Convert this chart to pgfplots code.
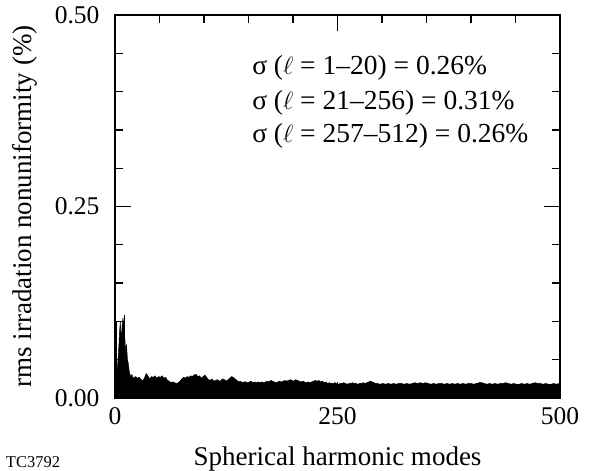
\documentclass[border=0pt]{standalone}
\usepackage{pgfplots}
\pgfplotsset{compat=1.18}
\usepackage{fontspec}
\setmainfont{Liberation Serif}
\begin{document}
\begin{tikzpicture}
\useasboundingbox (-115pt,-73pt) rectangle (480pt,398pt);
\begin{axis}[
  scale only axis, width=445pt, height=383pt,
  xmin=0, xmax=500, ymin=0, ymax=0.5,
  xtick={0,250,500}, minor xtick={50,100,150,200,300,350,400,450},
  ytick={0,0.25,0.5}, minor ytick={0.05,0.1,0.15,0.2,0.3,0.35,0.4,0.45},
  tick align=inside, major tick length=16pt, minor tick length=8pt,
  axis line style={line width=1.3pt}, every tick/.style={line width=1.3pt, black},
  /pgf/number format/assume math mode=true,
  yticklabel style={/pgf/number format/fixed, /pgf/number format/fixed zerofill, /pgf/number format/precision=2, xshift=-12pt},
  xticklabel style={yshift=-6pt},
  tick label style={font=\fontsize{25.5}{30}\selectfont},
  scaled y ticks=false,
  xlabel={Spherical harmonic modes},
  ylabel={rms irradation nonuniformity (\%)},
  label style={font=\fontsize{27}{32}\selectfont},
  xlabel style={at={(axis description cs:0.5,-0.175)}, anchor=base},
  ylabel style={at={(axis description cs:-0.175,0.5)}, anchor=south, inner sep=0pt},
  clip=true,
]
\addplot[fill=black, draw=black, line width=0.4pt] coordinates {
(1,0.015)(2,0.03)(3,0.045)(4,0.06)(5,0.085)(6,0.10)(7,0.075)(8,0.095)(9,0.105)(10,0.09)
(11,0.08)(12,0.06)(13,0.07)(14,0.05)(15,0.045)(16,0.035)(17,0.03)(18,0.028)(19,0.031)(20,0.027)
(21,0.026)(23,0.028)(25,0.026)(27,0.027)(29,0.025)(31,0.022)(33,0.026)(35,0.032)(37,0.029)(39,0.025)
(41,0.028)(43,0.027)(45,0.029)(47,0.026)(49,0.028)(51,0.027)(53,0.029)(55,0.026)(57,0.027)(59,0.023)
(61,0.022)(63,0.020)(65,0.021)(67,0.020)(69,0.019)(71,0.020)(73,0.022)(75,0.025)(77,0.027)(79,0.026)
(81,0.028)(83,0.027)(85,0.029)(87,0.028)(89,0.030)(91,0.031)(93,0.028)(95,0.029)(97,0.026)(99,0.028)
(101,0.030)(103,0.027)(105,0.024)(107,0.023)(109,0.025)(111,0.022)(113,0.023)(115,0.024)(117,0.022)(119,0.023)
(121,0.025)(123,0.024)(125,0.022)(127,0.024)(129,0.026)(131,0.028)(133,0.027)(135,0.025)(137,0.023)(139,0.021)
(141,0.022)(143,0.020)(145,0.021)(147,0.021)(149,0.020)(151,0.021)(153,0.022)(155,0.020)(157,0.021)(159,0.020)
(161,0.021)(163,0.020)(165,0.021)(167,0.020)(169,0.021)(171,0.022)(173,0.021)(175,0.023)(177,0.022)(179,0.021)
(181,0.020)(183,0.021)(185,0.022)(187,0.021)(189,0.022)(191,0.023)(193,0.022)(195,0.023)(197,0.024)(199,0.023)
(201,0.022)(203,0.024)(205,0.023)(207,0.022)(209,0.021)(211,0.022)(213,0.021)(215,0.020)(217,0.021)(219,0.020)
(221,0.021)(223,0.022)(225,0.023)(227,0.022)(229,0.023)(231,0.021)(233,0.022)(235,0.020)(237,0.021)(239,0.019)
(241,0.020)(243,0.019)(245,0.019)(247,0.020)(249,0.019)(251,0.018)(253,0.019)(255,0.019)(257,0.020)(259,0.019)
(261,0.018)(263,0.019)(265,0.019)(267,0.020)(269,0.019)(271,0.019)(273,0.018)(275,0.019)(277,0.019)(279,0.020)
(281,0.019)(283,0.020)(285,0.021)(287,0.022)(289,0.021)(291,0.020)(293,0.019)(295,0.019)
(298,0.018)(301,0.019)(304,0.018)(307,0.019)(310,0.018)(313,0.019)(316,0.018)(319,0.019)(322,0.019)(325,0.018)
(328,0.019)(331,0.018)(334,0.019)(337,0.020)(340,0.019)(343,0.020)(346,0.019)(349,0.020)(352,0.019)(355,0.018)
(358,0.019)(361,0.018)(364,0.019)(367,0.019)(370,0.018)(373,0.019)(376,0.018)(379,0.019)(382,0.018)(385,0.019)
(388,0.018)(391,0.019)(394,0.018)(397,0.019)(400,0.019)(403,0.018)(406,0.019)(409,0.020)(412,0.020)(415,0.019)
(418,0.018)(421,0.019)(424,0.018)(427,0.019)(430,0.018)(433,0.019)(436,0.019)(439,0.020)(442,0.019)(445,0.018)
(448,0.019)(451,0.018)(454,0.018)(457,0.019)(460,0.018)(463,0.019)(466,0.018)(469,0.019)(472,0.020)(475,0.019)
(478,0.019)(481,0.018)(484,0.019)(487,0.018)(490,0.018)(493,0.019)(496,0.018)(499,0.019)(500,0.022)
} \closedcycle;
\addplot[black, line width=0.6pt] coordinates {(1,0.0)(1,0.10)(9,0.10)(9,0.07)};
\addplot[black, line width=0.6pt] coordinates {(10,0.06)(10,0.108)};
\node[anchor=base west, font=\fontsize{27.5}{32}\selectfont, inner sep=0pt] at (axis cs:154,0.4217) {σ ($\ell$ = 1–20) = 0.26\%};
\node[anchor=base west, font=\fontsize{27.5}{32}\selectfont, inner sep=0pt] at (axis cs:154,0.376) {σ ($\ell$ = 21–256) = 0.31\%};
\node[anchor=base west, font=\fontsize{27.5}{32}\selectfont, inner sep=0pt] at (axis cs:154,0.333) {σ ($\ell$ = 257–512) = 0.26\%};
\end{axis}
\node[font=\fontsize{16.5}{18}\selectfont] at (-82pt,-64pt) {TC3792};
\end{tikzpicture}
\end{document}
